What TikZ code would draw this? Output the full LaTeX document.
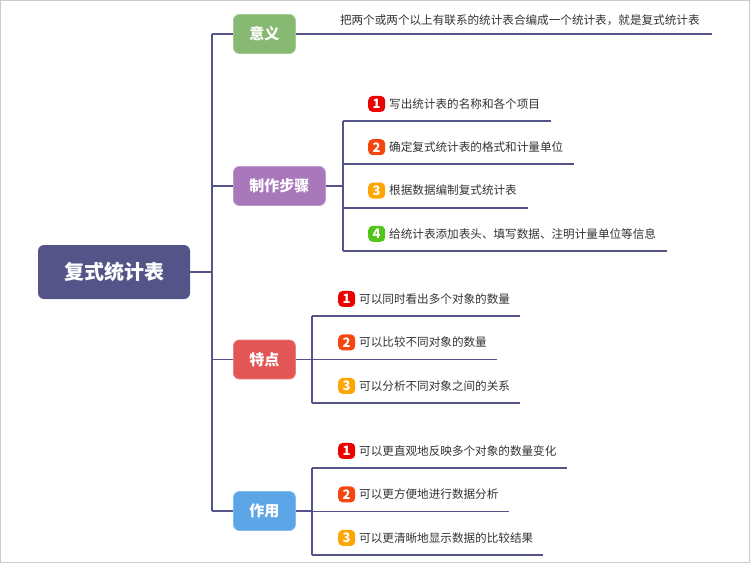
\documentclass[tikz,border=0pt]{standalone}
\usepackage{fontspec}
\setmainfont{Noto Sans CJK SC}
\usepackage{tikz}
\definecolor{MapLineColor}{RGB}{84,84,138}
\definecolor{MapRootColor}{RGB}{84,84,136}
\definecolor{MapColor1}{RGB}{135,185,115}
\definecolor{MapColor2}{RGB}{169,120,187}
\definecolor{MapColor3}{RGB}{226,86,86}
\definecolor{MapColor4}{RGB}{92,166,232}
\definecolor{MapNumColor1}{RGB}{236,0,0}
\definecolor{MapNumColor2}{RGB}{245,70,15}
\definecolor{MapNumColor3}{RGB}{255,165,0}
\definecolor{MapNumColor4}{RGB}{82,196,26}
\definecolor{MapTextColor}{RGB}{51,51,51}
\newcommand{\mapnum}[1]{\tikz[baseline=-4.4pt]\node[anchor=center,text depth=,text height=,
  fill=MapNumColor#1,text=white,rounded corners=4.5pt,minimum width=17pt,minimum height=16pt,
  inner sep=0pt,font=\fontsize{13}{13}\selectfont\bfseries] {#1};}

\begin{document}
\begin{tikzpicture}[x=1pt,y=-1pt,
  link/.style={MapLineColor,line width=1.8pt},
  topic/.style={fill=#1,draw=#1!75!white,line width=0.8pt,text=white,rounded corners=6pt,
    anchor=west,minimum width=62pt,minimum height=39pt,inner xsep=16pt,
    font=\fontsize{15}{15}\selectfont\bfseries},
  leaf/.style={anchor=south west,inner sep=0pt,text depth=12.5pt,text height=9pt,
    text=MapTextColor,font=\fontsize{11.6}{14}\selectfont}]
    \useasboundingbox (0,0) rectangle (750,563);
    \draw[gray!40] (0.5,0.5) rectangle (749.5,562.5);
    % root and main topics
    \node[fill=MapRootColor,text=white,rounded corners=6pt,minimum width=152pt,minimum height=54pt,
      font=\fontsize{20}{20}\selectfont\bfseries](root) at(114,272) {复式统计表};
    \node[topic=MapColor1](meaning) at(233,34) {意义};
    \node[topic=MapColor2](steps) at(233,186) {制作步骤};
    \node[topic=MapColor3](feat) at(233,359.5) {特点};
    \node[topic=MapColor4](usage) at(233,511) {作用};
    \coordinate (trunk) at (212,272);
    \draw[link] (root.east) -- (trunk);
    \draw[link] (trunk |- meaning.west) -- (trunk |- usage.west);
    \foreach \n in {meaning,steps,feat,usage} {
       \draw[link] (trunk |- \n.west) -- (\n.west);
    }
    % leaves
    \node[leaf,text depth=9.8pt](def) at(meaning.east)
      {\hspace*{44pt}把两个或两个以上有联系的统计表合编成一个统计表，就是复式统计表\hspace*{12pt}};
    \draw[link] (meaning.east) -- (def.south east);
    \foreach \t [count=\k] in %
    {写出统计表的名称和各个项目,确定复式统计表的格式和计量单位,根据数据编制复式统计表,%
     给统计表添加表头、填写数据、注明计量单位等信息} {
       \node[leaf](step\k) at(343,{77.7+43.3*\k}) {\hspace*{25pt}\mapnum{\k}\hspace{4pt}\t\hspace*{11pt}};
       \draw[link] (step\k.south west) -- (step\k.south east);
    }
    \foreach \t [count=\k] in %
    {可以同时看出多个对象的数量,可以比较不同对象的数量,可以分析不同对象之间的关系} {
       \node[leaf](feat\k) at(312,{272.5+43.5*\k}) {\hspace*{26pt}\mapnum{\k}\hspace{4pt}\t\hspace*{10pt}};
       \draw[link] (feat\k.south west) -- (feat\k.south east);
    }
    \foreach \t [count=\k] in %
    {可以更直观地反映多个对象的数量变化,可以更方便地进行数据分析,可以更清晰地显示数据的比较结果} {
       \node[leaf](usage\k) at(312,{424.5+43.5*\k}) {\hspace*{26pt}\mapnum{\k}\hspace{4pt}\t\hspace*{10pt}};
       \draw[link] (usage\k.south west) -- (usage\k.south east);
    }
    \draw[link] (steps.east) -- (steps.east -| step1.south west);
    \draw[link] (step1.south west) -- (step4.south west);
    \draw[link] (feat.east) -- (feat.east -| feat1.south west);
    \draw[link] (feat1.south west) -- (feat3.south west);
    \draw[link] (usage.east) -- (usage.east -| usage1.south west);
    \draw[link] (usage1.south west) -- (usage3.south west);
\end{tikzpicture}
\end{document}
